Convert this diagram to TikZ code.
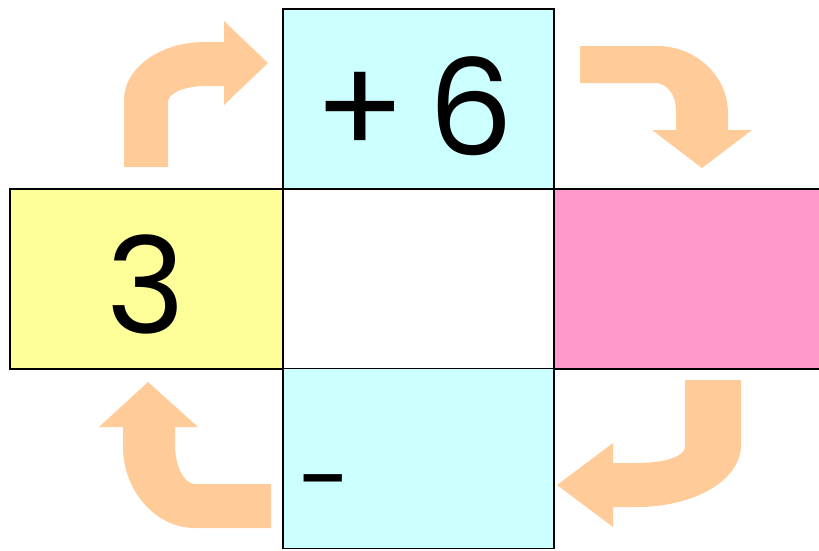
\documentclass[tikz,border=0pt]{standalone}
\usepackage{fontspec}
\setmainfont{Poppins}
\definecolor{startyellow}{HTML}{FFFF99}
\definecolor{opcyan}{HTML}{CCFFFF}
\definecolor{endpink}{HTML}{FF99CC}
\definecolor{arrowpeach}{HTML}{FFCC99}
\tikzset{
  cell/.style={draw, line width=1.5pt, rectangle, minimum height=180pt, inner sep=0pt, outer sep=0pt},
  bignum/.style={font=\fontsize{134}{134}\selectfont, inner sep=0pt},
  turnarrow/.style={fill=arrowpeach}
}

\begin{document}
\begin{tikzpicture}[x=1pt,y=-1pt]
		\useasboundingbox (0,0) rectangle (819,550);

		% boxes
		\node[cell, fill=startyellow, minimum width=273pt] (start) at (146.5,279) {};
		\node[cell, fill=white, minimum width=271pt] (mid) at (418.5,279) {};
		\node[cell, fill=endpink, minimum width=268pt] (result) at (688,279) {};
		\node[cell, fill=opcyan, minimum width=271pt] (plus) at (418.5,99) {};
		\node[cell, fill=opcyan, minimum width=271pt] (minus) at (418.5,458.5) {};

		% numbers and signs
		\node[bignum] (startval) at (146,284) {3};
		\node[bignum] (plusval) at (414,106) {+\,6};
		\node[font=\fontsize{96}{96}\selectfont, anchor=base] (minussign) at (325,513) {-};

		% up then right
		\fill[turnarrow] (124,167) -- (124,100) .. controls (124,68) and (160,42) .. (205,42)
			-- (224,42) -- (224,21) -- (268,63) -- (224,105) -- (224,86) -- (205,86)
			.. controls (185,86) and (168,93) .. (168,102) -- (168,167) -- cycle;

		% right then down
		\fill[turnarrow] (580,46) -- (657,46) .. controls (696,46) and (728,76) .. (728,113)
			-- (728,130) -- (752,130) -- (702,168) -- (652,130) -- (676,130) -- (676,110)
			.. controls (676,95) and (667,83) .. (655,83) -- (580,83) -- cycle;

		% down then left
		\fill[turnarrow] (685,380) -- (741,380) -- (741,445) .. controls (741,480) and (695,507) .. (637,507)
			-- (613,507) -- (613,527) -- (557,485) -- (613,443) -- (613,463) -- (637,463)
			.. controls (665,463) and (685,456) .. (685,447) -- cycle;

		% left then up
		\fill[turnarrow] (271,484) -- (271,528) -- (195,528) .. controls (155,528) and (123,490) .. (123,447)
			-- (123,427) -- (99,427) -- (148,382) -- (198,427) -- (175,427) -- (175,445)
			.. controls (175,466) and (184,484) .. (195,484) -- cycle;
	\end{tikzpicture}
\end{document}
